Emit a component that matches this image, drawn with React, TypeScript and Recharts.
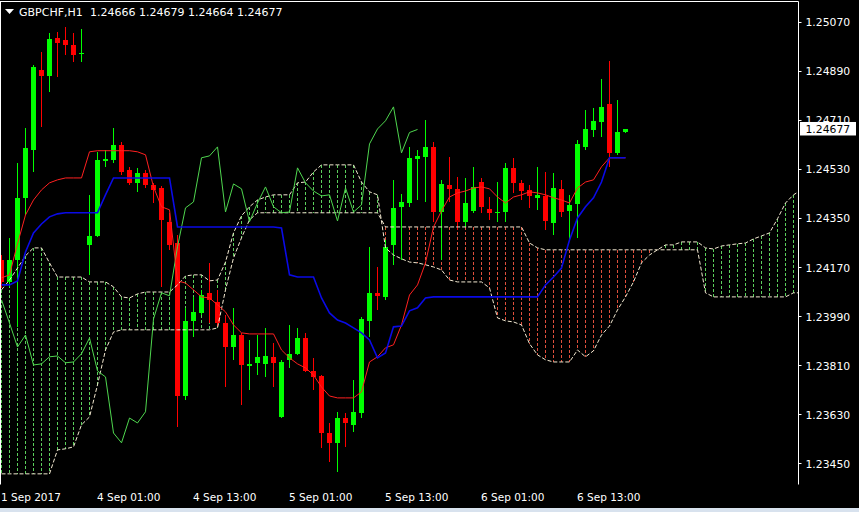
import React from 'react';
import { ComposedChart, Bar, Line, XAxis, YAxis, ReferenceLine } from 'recharts';

// ---- data ----
const symbol = 'GBPCHF,H1';

const opens = [1.24198,1.24117,1.24198,1.24426,1.24602,1.24896,1.24874,1.25014,1.25006,1.24988,1.24955,1.24253,1.24286,1.24562,1.24565,1.24621,1.24529,1.24481,1.24518,1.24473,1.24462,1.24338,1.24260,1.23698,1.23974,1.24003,1.24077,1.24044,1.23966,1.23878,1.23922,1.23809,1.23820,1.23816,1.23842,1.23621,1.23831,1.23853,1.23911,1.23790,1.23772,1.23562,1.23526,1.23617,1.23592,1.23636,1.23974,1.24077,1.24062,1.24253,1.24393,1.24407,1.24569,1.24576,1.24613,1.24374,1.24473,1.24459,1.24338,1.24378,1.24484,1.24385,1.24371,1.24374,1.24536,1.24481,1.24455,1.24426,1.24433,1.24334,1.24459,1.24378,1.24404,1.24613,1.24676,1.24705,1.24771,1.24591,1.24666];
const highs = [1.24216,1.24279,1.24554,1.24683,1.24915,1.24962,1.25032,1.25036,1.25054,1.25032,1.25047,1.24437,1.24595,1.24602,1.24683,1.24632,1.24540,1.24536,1.24529,1.24481,1.24470,1.24371,1.24290,1.24022,1.24062,1.24088,1.24187,1.24088,1.23996,1.24022,1.23930,1.23904,1.23922,1.23948,1.23893,1.23831,1.23959,1.23948,1.23930,1.23838,1.23775,1.23599,1.23640,1.23636,1.23757,1.23988,1.24246,1.24172,1.24271,1.24492,1.24440,1.24613,1.24602,1.24712,1.24632,1.24492,1.24576,1.24503,1.24499,1.24540,1.24499,1.24429,1.24484,1.24554,1.24573,1.24492,1.24473,1.24540,1.24521,1.24518,1.24492,1.24437,1.24639,1.24749,1.24757,1.24863,1.24929,1.24786,1.24679];
const lows = [1.24095,1.24099,1.23952,1.24363,1.24521,1.24687,1.24815,1.24871,1.24951,1.24926,1.24926,1.24143,1.24283,1.24540,1.24554,1.24510,1.24473,1.24448,1.24462,1.24407,1.24099,1.24235,1.23584,1.23684,1.23915,1.23996,1.23966,1.23952,1.23731,1.23831,1.23665,1.23720,1.23775,1.23768,1.23731,1.23617,1.23801,1.23849,1.23786,1.23720,1.23507,1.23456,1.23419,1.23511,1.23566,1.23617,1.23915,1.24014,1.24051,1.24180,1.24198,1.24393,1.24418,1.24411,1.24338,1.24198,1.24411,1.24308,1.24319,1.24371,1.24371,1.24345,1.24338,1.24338,1.24444,1.24418,1.24389,1.24382,1.24308,1.24290,1.24356,1.24271,1.24279,1.24602,1.24650,1.24650,1.24540,1.24584,1.24664];
const closes = [1.24117,1.24198,1.24426,1.24610,1.24907,1.24874,1.25010,1.24995,1.24988,1.24951,1.24959,1.24286,1.24565,1.24569,1.24621,1.24521,1.24481,1.24518,1.24473,1.24455,1.24345,1.24253,1.23698,1.23974,1.24007,1.24069,1.24051,1.23966,1.23878,1.23922,1.23812,1.23816,1.23842,1.23845,1.23820,1.23823,1.23853,1.23911,1.23790,1.23768,1.23562,1.23526,1.23617,1.23599,1.23640,1.23981,1.24077,1.24066,1.24246,1.24389,1.24411,1.24573,1.24580,1.24613,1.24374,1.24477,1.24459,1.24338,1.24407,1.24466,1.24393,1.24371,1.24374,1.24536,1.24481,1.24451,1.24433,1.24437,1.24341,1.24462,1.24374,1.24400,1.24624,1.24679,1.24709,1.24760,1.24591,1.24666,1.24677];

const tenkan = [1.24132,1.24143,1.24257,1.24363,1.24418,1.24455,1.24481,1.24492,1.24499,1.24499,1.24499,1.24595,1.24599,1.24599,1.24599,1.24599,1.24599,1.24595,1.24584,1.24466,1.24393,1.24382,1.24121,1.24113,1.24088,1.24062,1.24058,1.24033,1.24007,1.23959,1.23930,1.23926,1.23926,1.23926,1.23926,1.23867,1.23838,1.23816,1.23801,1.23775,1.23731,1.23698,1.23691,1.23691,1.23691,1.23713,1.23823,1.23842,1.23875,1.23886,1.23959,1.24069,1.24106,1.24187,1.24319,1.24378,1.24429,1.24444,1.24451,1.24462,1.24466,1.24459,1.24429,1.24407,1.24429,1.24437,1.24448,1.24444,1.24437,1.24426,1.24418,1.24407,1.24462,1.24484,1.24492,1.24540,1.24573,1.24573,1.24573];
const kijun = [1.24106,1.24106,1.24121,1.24227,1.24297,1.24330,1.24356,1.24367,1.24371,1.24371,1.24371,1.24371,1.24371,1.24437,1.24499,1.24499,1.24499,1.24499,1.24499,1.24499,1.24499,1.24499,1.24319,1.24319,1.24319,1.24319,1.24319,1.24319,1.24319,1.24319,1.24319,1.24319,1.24319,1.24319,1.24319,1.24315,1.24143,1.24135,1.24135,1.24135,1.24058,1.24003,1.23977,1.23966,1.23948,1.23930,1.23904,1.23838,1.23856,1.23952,1.23955,1.24011,1.24022,1.24058,1.24062,1.24062,1.24062,1.24062,1.24062,1.24062,1.24062,1.24062,1.24062,1.24062,1.24062,1.24062,1.24062,1.24062,1.24106,1.24135,1.24168,1.24271,1.24352,1.24393,1.24426,1.24484,1.24573,1.24573,1.24573];

const spanA = [1.24088,1.24124,1.24168,1.24213,1.24242,1.24242,1.24187,1.24135,1.24135,1.24135,
1.24135,1.24117,1.24117,1.24117,1.24099,1.24062,1.24058,1.24073,1.24080,1.24080,
1.24080,1.24080,1.24106,1.24139,1.24143,1.24143,1.24121,1.24124,1.24190,1.24297,
1.24360,1.24393,1.24418,1.24429,1.24437,1.24437,1.24437,1.24481,1.24484,1.24521,
1.24547,1.24547,1.24547,1.24547,1.24547,1.24484,1.24448,1.24437,1.24242,1.24216,
1.24202,1.24190,1.24187,1.24180,1.24172,1.24161,1.24124,1.24117,1.24117,1.24117,
1.24117,1.24095,1.23985,1.23974,1.23970,1.23959,1.23890,1.23849,1.23831,1.23823,
1.23823,1.23823,1.23867,1.23842,1.23864,1.23922,1.23955,1.24014,1.24062,1.24117,
1.24187,1.24216,1.24235,1.24253,1.24253,1.24264,1.24264,1.24264,1.24242,1.24238,
1.24249,1.24253,1.24257,1.24260,1.24275,1.24286,1.24297,1.24349,1.24407,1.24437,1.24455];
const spanB = [1.23412,1.23412,1.23412,1.23412,1.23412,1.23412,1.23412,1.23500,1.23504,1.23511,
1.23592,1.23621,1.23739,1.23867,1.23933,1.23941,1.23941,1.23941,1.23941,1.23941,
1.23941,1.23941,1.23941,1.23941,1.23941,1.23941,1.23941,1.23948,1.24088,1.24205,
1.24279,1.24345,1.24371,1.24371,1.24371,1.24371,1.24371,1.24371,1.24371,1.24371,
1.24371,1.24371,1.24371,1.24371,1.24371,1.24371,1.24371,1.24371,1.24319,1.24319,
1.24319,1.24319,1.24319,1.24319,1.24319,1.24319,1.24319,1.24319,1.24319,1.24319,
1.24319,1.24319,1.24319,1.24319,1.24319,1.24319,1.24260,1.24242,1.24235,1.24235,
1.24235,1.24235,1.24235,1.24235,1.24235,1.24235,1.24235,1.24235,1.24235,1.24235,
1.24235,1.24235,1.24235,1.24235,1.24235,1.24235,1.24235,1.24235,1.24077,1.24062,
1.24062,1.24062,1.24062,1.24062,1.24062,1.24062,1.24062,1.24062,1.24062,1.24077,1.24077];

// Chikou span = closes displaced 26 bars back
const chikou = closes.slice(26);

const yTicks = [1.2345, 1.2363, 1.2381, 1.2399, 1.2417, 1.2435, 1.2453, 1.2471, 1.2489, 1.2507];
const xTickIdx = [0, 12, 24, 36, 48, 60, 72];
const xTickLabels = ['1 Sep 2017', '4 Sep 01:00', '4 Sep 13:00', '5 Sep 01:00', '5 Sep 13:00', '6 Sep 01:00', '6 Sep 13:00'];

// ---- layout / style ----
const W = 859;
const H = 512;
const X_DOMAIN: [number, number] = [-0.1875, 99.625];
const Y_DOMAIN: [number, number] = [1.2337286, 1.2514714];
const FONT = '"DejaVu Sans", Verdana, sans-serif';
const BULL = '#00ff00';
const BEAR = '#ff0000';
const HATCH_UP = '#5cd05c';
const HATCH_DN = '#e0503c';
const SPAN_COLOR = '#f2e8d0';
const X_LABEL_BASELINE = 500.5;

const last = opens.length - 1;
const lastPrice = closes[last];

const rows = spanA.map((a, i) => {
  const b = spanB[i];
  const r: any = { i, a, b, cloud: [Math.min(a, b), Math.max(a, b)] };
  if (i < opens.length) {
    r.o = opens[i];
    r.h = highs[i];
    r.l = lows[i];
    r.c = closes[i];
    r.candle = [lows[i], highs[i]];
    r.t = tenkan[i];
    r.k = kijun[i];
  }
  if (i < chikou.length) r.ch = chikou[i];
  return r;
});

const renderCandle = (p: any) => {
  const { x, y, width, height } = p;
  const d = p.payload || p;
  if (d.o == null || !isFinite(y) || !isFinite(height)) return <g />;
  const { o, h, l, c } = d;
  const top = Math.min(y, y + height);
  const bot = Math.max(y, y + height);
  const cx = Math.round(x + width / 2 - 0.5) + 0.5;
  const yOf = (v: number) => (h === l ? top : top + ((h - v) / (h - l)) * (bot - top));
  const color = c >= o ? BULL : BEAR;
  const bTop = yOf(Math.max(o, c));
  const bBot = yOf(Math.min(o, c));
  return (
    <g>
      <line x1={cx} x2={cx} y1={top} y2={bot} stroke={color} strokeWidth={1} shapeRendering="crispEdges" />
      <rect x={cx - 2.5} y={bTop} width={5} height={Math.max(1.5, bBot - bTop)} fill={color} shapeRendering="crispEdges" />
    </g>
  );
};

const renderCloud = (p: any) => {
  const { x, y, width, height } = p;
  const d = p.payload || {};
  if (!isFinite(y) || !isFinite(height)) return <g />;
  const top = Math.min(y, y + height);
  const bot = Math.max(y, y + height);
  const cx = Math.round(x + width / 2 - 0.5) + 0.5;
  const color = d.a >= d.b ? HATCH_UP : HATCH_DN;
  return (
    <g>
      <line x1={cx} x2={cx} y1={top} y2={bot} stroke={color} strokeWidth={1} strokeDasharray="3 2" shapeRendering="crispEdges" />
    </g>
  );
};

const XTick = (p: any) => {
  const idx = xTickIdx.indexOf(p.payload.value);
  return (
    <text x={p.x - 0.5} y={X_LABEL_BASELINE} fill="#ffffff" fontSize={10.5} fontFamily={FONT} textAnchor="start">
      {xTickLabels[idx]}
    </text>
  );
};

const YTick = (p: any) => (
  <text x={p.x} y={p.y + 4} fill="#ffffff" fontSize={10.8} fontFamily={FONT} textAnchor="start">
    {Number(p.payload.value).toFixed(5)}
  </text>
);

const PriceTag = (p: any) => {
  const vb = p.viewBox || {};
  if (vb.y == null) return null;
  const x0 = vb.x + vb.width + 1.5;
  return (
    <g>
      <rect x={x0} y={vb.y - 7.5} width={56} height={13.5} fill="#ffffff" />
      <text x={x0 + 5.5} y={vb.y + 4} fill="#000000" fontSize={10.8} fontFamily={FONT}>
        {lastPrice.toFixed(5)}
      </text>
    </g>
  );
};

export default function App() {
  return (
    <div style={{ position: 'absolute', left: 0, top: 0, width: W, height: H, background: '#000', overflow: 'hidden' }}>
      <ComposedChart width={W} height={H} data={rows} margin={{ top: 1.5, right: 0, bottom: 0, left: 0 }}>
        <XAxis
          xAxisId="main" dataKey="i" type="number" domain={X_DOMAIN} allowDataOverflow
          ticks={xTickIdx} interval={0} height={27.5}
          axisLine={{ stroke: '#ffffff' }} tickLine={{ stroke: '#ffffff' }} tickSize={4} tickMargin={2}
          tick={<XTick />}
        />
        <XAxis xAxisId="cloud" dataKey="i" type="number" domain={X_DOMAIN} allowDataOverflow hide />
        <YAxis
          yAxisId="p" orientation="right" type="number" domain={Y_DOMAIN} allowDataOverflow
          ticks={yTicks} interval={0} width={60.5}
          axisLine={{ stroke: '#ffffff' }} tickLine={{ stroke: '#ffffff' }} tickSize={3} tickMargin={4}
          tick={<YTick />}
        />
        <Bar xAxisId="cloud" yAxisId="p" dataKey="cloud" barSize={1} shape={renderCloud} isAnimationActive={false} />
        <Line xAxisId="main" yAxisId="p" dataKey="a" stroke={SPAN_COLOR} strokeWidth={1} strokeDasharray="4 2" dot={false} activeDot={false} isAnimationActive={false} />
        <Line xAxisId="main" yAxisId="p" dataKey="b" stroke={SPAN_COLOR} strokeWidth={1} strokeDasharray="4 2" dot={false} activeDot={false} isAnimationActive={false} />
        <Line xAxisId="main" yAxisId="p" dataKey="ch" stroke="#4fd64f" strokeWidth={1} dot={false} activeDot={false} isAnimationActive={false} />
        <Line xAxisId="main" yAxisId="p" dataKey="t" stroke="#ff2020" strokeWidth={1} dot={false} activeDot={false} isAnimationActive={false} />
        <Line xAxisId="main" yAxisId="p" dataKey="k" stroke="#0a0ae6" strokeWidth={1.6} dot={false} activeDot={false} isAnimationActive={false} />
        <Bar xAxisId="main" yAxisId="p" dataKey="candle" barSize={1} shape={renderCandle} isAnimationActive={false} />
        <ReferenceLine xAxisId="main" yAxisId="p" y={Y_DOMAIN[1]} stroke="#ffffff" />
        <ReferenceLine xAxisId="main" yAxisId="p" x={-0.125} stroke="#ffffff" />
        <ReferenceLine xAxisId="main" yAxisId="p" y={lastPrice} stroke="none" strokeOpacity={0} label={(p: any) => <PriceTag {...p} />} />
      </ComposedChart>
      <svg width={W} height={22} style={{ position: 'absolute', left: 0, top: 0 }}>
        <polygon points="5,9 14,9 9.5,14" fill="#ffffff" />
        <text x={19} y={16} fill="#ffffff" fontSize={11} fontFamily={FONT}>{symbol}</text>
        <text x={90} y={16} fill="#ffffff" fontSize={11} fontFamily={FONT}>
          {[opens[last], highs[last], lows[last], closes[last]].map((v) => v.toFixed(5)).join(' ')}
        </text>
      </svg>
      <div style={{ position: 'absolute', left: 0, top: 508, width: W, height: 4, background: '#d8e2ee' }} />
    </div>
  );
}
